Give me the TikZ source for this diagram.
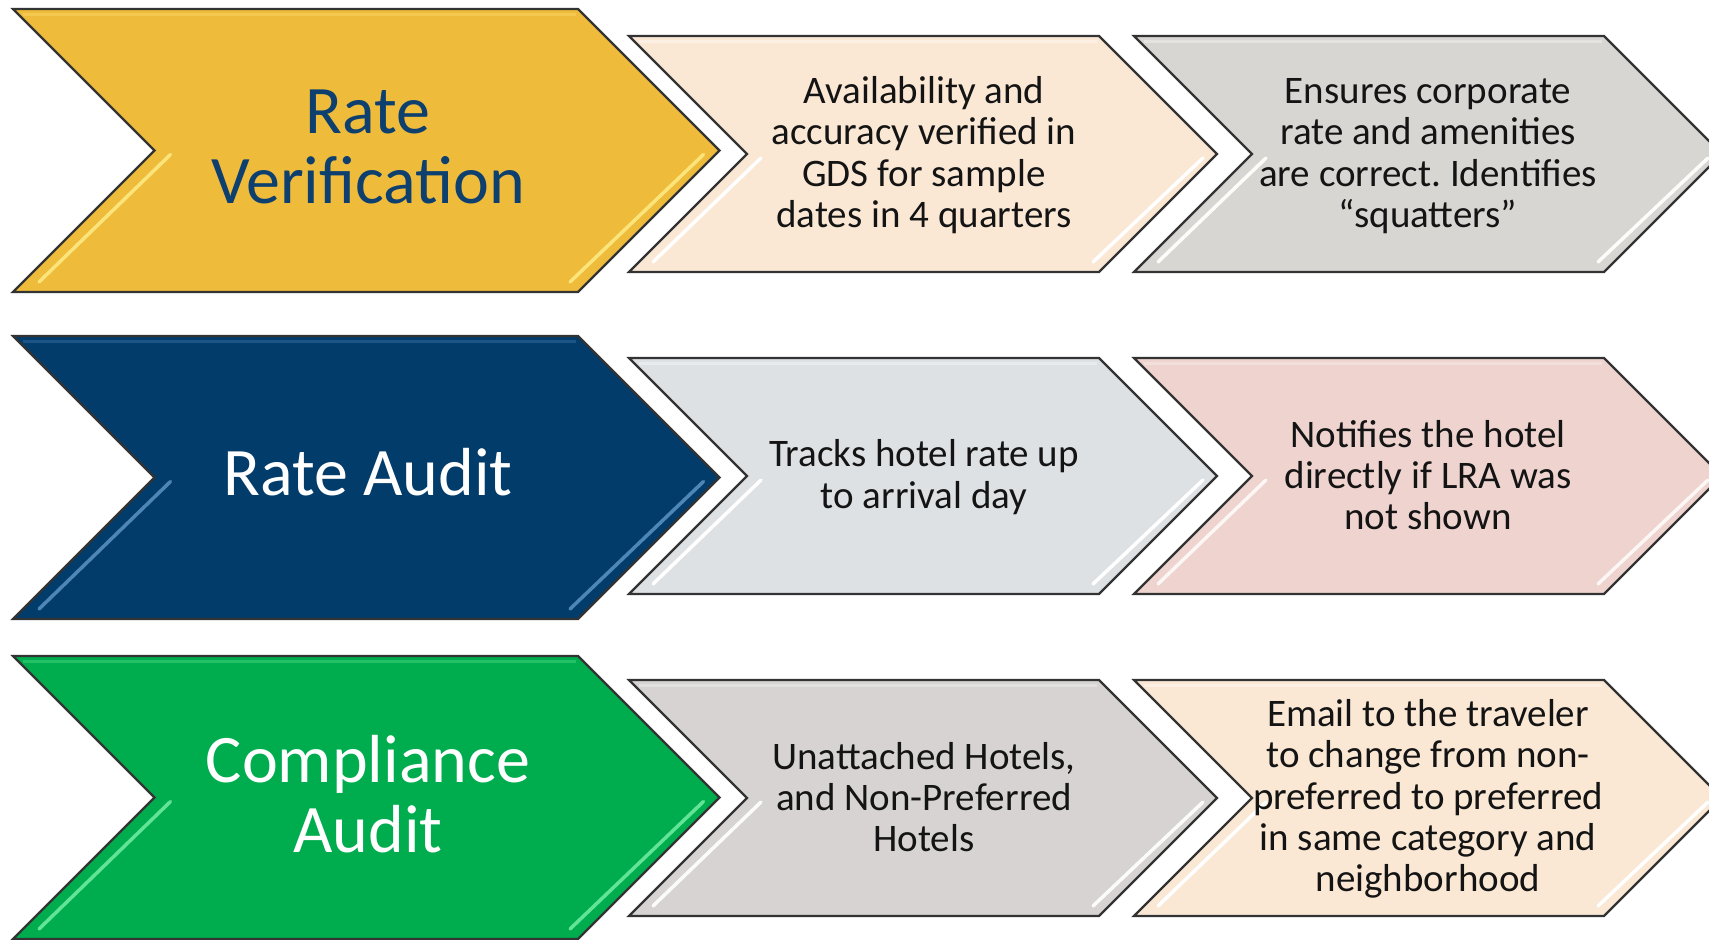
\documentclass[tikz,border=0pt]{standalone}
\usepackage{fontspec}
\setmainfont{Carlito}
\frenchspacing
\definecolor{cyellow}{HTML}{EFBB3B}
\definecolor{cyellowhl}{HTML}{FBE47A}
\definecolor{cnavy}{HTML}{023C6B}
\definecolor{cnavyhl}{HTML}{4F86B8}
\definecolor{cgreen}{HTML}{00AD4E}
\definecolor{cgreenhl}{HTML}{62E496}
\definecolor{cpeach}{HTML}{FAE8D5}
\definecolor{cgrey}{HTML}{D8D6D2}
\definecolor{cbluegrey}{HTML}{DDE1E4}
\definecolor{cpink}{HTML}{EED3CF}
\definecolor{cgrey2}{HTML}{D6D3D2}
\definecolor{ctitle}{HTML}{0D3F6F}
\definecolor{cedge}{HTML}{333333}
\tikzset{
  chevline/.style={draw=cedge, line width=2.2pt, line join=miter},
  bevel/.style={line width=3.5pt, line cap=round},
  topbevel/.style={line width=3pt, opacity=0.35},
  bigtext/.style={align=center, font=\fontsize{68}{70}\selectfont, inner sep=0pt},
  smalltext/.style={align=center, font=\fontsize{39}{41.4}\selectfont, text=black!92, inner sep=0pt}
}
% #1 L, #2 T, #3 W, #4 H, #5 fill, #6 highlight colour, #7 inset
\newcommand\drawchev[7]{%
  \pgfmathsetmacro\cd{#4/2}%
  \fill[#5] (#1,#2) -- ++(#3,0) -- ++(\cd,\cd) -- ++(-\cd,\cd) -- ++(-#3,0) -- ++(\cd,-\cd) -- cycle;
  \draw[topbevel, draw=#6] ($(#1,#2)+(10,5)$) -- ($(#1,#2)+(#3,0)+(-2,5)$);
  \draw[bevel, draw=#6] ($(#1,#2)+(\cd,\cd)+(#7,4)$) -- ($(#1,#2)+(0,#4)+(#7+10,-10)$);
  \draw[bevel, draw=#6] ($(#1,#2)+(#3,0)+(\cd,\cd)+(-#7,4)$) -- ($(#1,#2)+(#3,#4)+(-#7+8,-10)$);
  \draw[chevline] (#1,#2) -- ++(#3,0) -- ++(\cd,\cd) -- ++(-\cd,\cd) -- ++(-#3,0) -- ++(\cd,-\cd) -- cycle;
}
\usetikzlibrary{calc}
\begin{document}
\begin{tikzpicture}[x=1pt,y=-1pt]
\useasboundingbox (0,0) rectangle (1709,940);
\fill[white] (0,0) rectangle (1709,940);
% Row 1
\drawchev{13}{9}{565}{283}{cyellow}{cyellowhl}{16}
\drawchev{629}{36}{470}{236}{cpeach}{white}{14}
\drawchev{1134}{36}{470}{236}{cgrey}{white!92!cgrey}{14}
\node[bigtext, text=ctitle] (rv) at (368,147) {Rate\\Verification};
\node[smalltext] (rv1) at (924,155) {Availability and\\accuracy verified in\\GDS for sample\\dates in 4 quarters};
\node[smalltext] (rv2) at (1428,156) {Ensures corporate\\rate and amenities\\are correct. Identifies\\“squatters”};
% Row 2
\drawchev{13}{336}{565}{283}{cnavy}{cnavyhl}{16}
\drawchev{629}{358}{470}{236}{cbluegrey}{white}{14}
\drawchev{1134}{358}{470}{236}{cpink}{white!80!cpink}{14}
\node[bigtext, text=white] (ra) at (368,472) {Rate Audit};
\node[smalltext] (ra1) at (924,477) {Tracks hotel rate up\\to arrival day};
\node[smalltext] (ra2) at (1428,475) {Notifies the hotel\\directly if LRA was\\not shown};
% Row 3
\drawchev{13}{656}{565}{283}{cgreen}{cgreenhl}{16}
\drawchev{629}{680}{470}{236}{cgrey2}{white!92!cgrey2}{14}
\drawchev{1134}{680}{470}{236}{cpeach}{white}{14}
\node[bigtext, text=white] (ca) at (368,794) {Compliance\\Audit};
\node[smalltext] (ca1) at (924,797) {Unattached Hotels,\\and Non-Preferred\\Hotels};
\node[smalltext] (ca2) at (1428,799) {Email to the traveler\\to change from non-\\preferred to preferred\\in same category and\\neighborhood};
\end{tikzpicture}
\end{document}
